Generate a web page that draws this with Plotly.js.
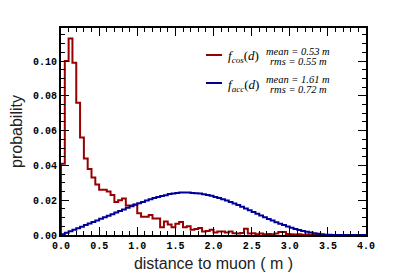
<!DOCTYPE html>
<html>
<head>
<meta charset="utf-8">
<script src="https://cdn.plot.ly/plotly-3.0.1.min.js"></script>
<style>
  html, body { margin: 0; padding: 0; background: #fff; }
  #chart { width: 407px; height: 277px; }
</style>
</head>
<body>
<div id="chart"></div>
<script>
// histogram binning (m)
const binWidth = 0.05;
const nBins = 80;

// f_cos(d): probability per 0.05 m bin
const cosValues = [
  0.041, 0.100, 0.113, 0.099, 0.076, 0.056, 0.044, 0.038, 0.033, 0.029,
  0.026, 0.026, 0.025, 0.023, 0.019, 0.020, 0.021, 0.017, 0.017, 0.0175,
  0.0125, 0.0105, 0.0105, 0.0115, 0.0095, 0.0095, 0.0045, 0.0078, 0.006, 0.0045,
  0.0065, 0.0075, 0.0045, 0.005, 0.003, 0.0035, 0.004, 0.002, 0.0023, 0.003,
  0.0015, 0.002, 0.002, 0.0015, 0.002, 0.001, 0.0008, 0.0012, 0.0036, 0.0008,
  0.001, 0.0005, 0.0008, 0.0005, 0.0006, 0.0004, 0.0008, 0.0017, 0.0017, 0.0006,
  0.0005, 0.0003, 0.0004, 0.0002, 0.0003, 0.0002, 0.0001, 0, 0, 0,
  0, 0, 0, 0, 0, 0, 0, 0, 0, 0
];

// f_acc(d): probability per 0.05 m bin
const accValues = [
  0.0004, 0.0013, 0.0022, 0.0030, 0.0039, 0.0048, 0.0057, 0.0066, 0.0075, 0.0084,
  0.0093, 0.0102, 0.0111, 0.0120, 0.0129, 0.0138, 0.0147, 0.0156, 0.0165, 0.0174,
  0.0182, 0.0190, 0.0198, 0.0205, 0.0212, 0.0218, 0.0224, 0.0229, 0.0235, 0.0239,
  0.0242, 0.0244, 0.0245, 0.0244, 0.0242, 0.0240, 0.0238, 0.0234, 0.0230, 0.0225,
  0.0219, 0.0213, 0.0206, 0.0198, 0.0190, 0.0181, 0.0172, 0.0162, 0.0152, 0.0142,
  0.0132, 0.0122, 0.0112, 0.0102, 0.0092, 0.0083, 0.0074, 0.0065, 0.0057, 0.0049,
  0.0042, 0.0035, 0.0029, 0.0023, 0.0018, 0.0014, 0.0010, 0.0007, 0.0004, 0.0002,
  0.0001, 0, 0, 0, 0, 0, 0, 0, 0, 0
];

const xTicks = [0, 0.5, 1, 1.5, 2, 2.5, 3, 3.5, 4];
const yTicks = [0, 0.02, 0.04, 0.06, 0.08, 0.10];

const legendRows = [
  { name: 'cos', color: '#990000', mean: '0.53', rms: '0.55' },
  { name: 'acc', color: '#000099', mean: '1.61', rms: '0.72' }
];

// turn bin contents into a ROOT-like outline
function stepTrace(values, color) {
  const x = [0];
  const y = [0];
  for (let i = 0; i < nBins; i++) {
    x.push(i * binWidth);
    y.push(values[i]);
  }
  x.push(nBins * binWidth);
  y.push(values[nBins - 1]);
  return {
    x, y,
    type: 'scatter',
    mode: 'lines',
    line: { color, width: 2, shape: 'hv' },
    hoverinfo: 'skip',
    showlegend: false
  };
}

const data = [
  stepTrace(cosValues, legendRows[0].color),
  stepTrace(accValues, legendRows[1].color)
];

// plot frame in pixels
const L = 61, R = 366, T = 28, B = 235;
const px = v => (v - L) / (R - L);
const py = v => (B - v) / (B - T);

const shapes = [];
const annotations = [];
const rowY = [55, 83];
legendRows.forEach((row, k) => {
  const y0 = rowY[k];
  shapes.push({
    type: 'line', xref: 'paper', yref: 'paper',
    x0: px(206), x1: px(222), y0: py(y0), y1: py(y0),
    line: { color: row.color, width: 2 }
  });
  annotations.push({
    xref: 'paper', yref: 'paper', x: px(226), y: py(y0 + 2),
    xanchor: 'left', yanchor: 'middle', showarrow: false,
    text: `<i>f</i><sub><i>${row.name}</i></sub>(<i>d</i>)`,
    font: { family: 'Liberation Serif', size: 13, color: '#000' }
  });
  annotations.push({
    xref: 'paper', yref: 'paper', x: px(298), y: py(y0 - 4),
    xanchor: 'center', yanchor: 'middle', showarrow: false,
    text: `<i>mean = ${row.mean} m</i>`,
    font: { family: 'Liberation Serif', size: 10.5, color: '#000' }
  });
  annotations.push({
    xref: 'paper', yref: 'paper', x: px(298), y: py(y0 + 6),
    xanchor: 'center', yanchor: 'middle', showarrow: false,
    text: `<i>rms = ${row.rms} m</i>`,
    font: { family: 'Liberation Serif', size: 10.5, color: '#000' }
  });
});

const tickFont = { family: 'Liberation Mono', size: 10, color: '#000', weight: 'bold' };

const layout = {
  width: 407,
  height: 277,
  margin: { l: L, r: 407 - R, t: T, b: 277 - B },
  paper_bgcolor: '#fff',
  plot_bgcolor: '#fff',
  showlegend: false,
  xaxis: {
    range: [0, 4],
    tickvals: xTicks,
    ticktext: xTicks.map(v => v.toFixed(1)),
    ticks: 'inside', ticklen: 8, tickwidth: 1, tickcolor: '#000',
    minor: { dtick: 0.1, ticks: 'inside', ticklen: 4, tickcolor: '#000' },
    showline: true, linecolor: '#000', linewidth: 2, mirror: 'ticks',
    showgrid: false, zeroline: false,
    tickfont: tickFont,
    title: { text: 'distance to muon ( m )', standoff: 7,
             font: { family: 'Liberation Sans', size: 16, color: '#222' } }
  },
  yaxis: {
    range: [0, 0.119],
    tickvals: yTicks,
    ticktext: yTicks.map(v => v.toFixed(2)),
    ticks: 'inside', ticklen: 8, tickwidth: 1, tickcolor: '#000',
    minor: { dtick: 0.005, ticks: 'inside', ticklen: 4, tickcolor: '#000' },
    showline: true, linecolor: '#000', linewidth: 2, mirror: 'ticks',
    showgrid: false, zeroline: false,
    tickfont: tickFont,
    title: { text: 'probability', standoff: 6,
             font: { family: 'Liberation Sans', size: 16, color: '#222' } }
  },
  shapes,
  annotations
};

Plotly.newPlot('chart', data, layout, { displayModeBar: false, staticPlot: true });
</script>
</body>
</html>
